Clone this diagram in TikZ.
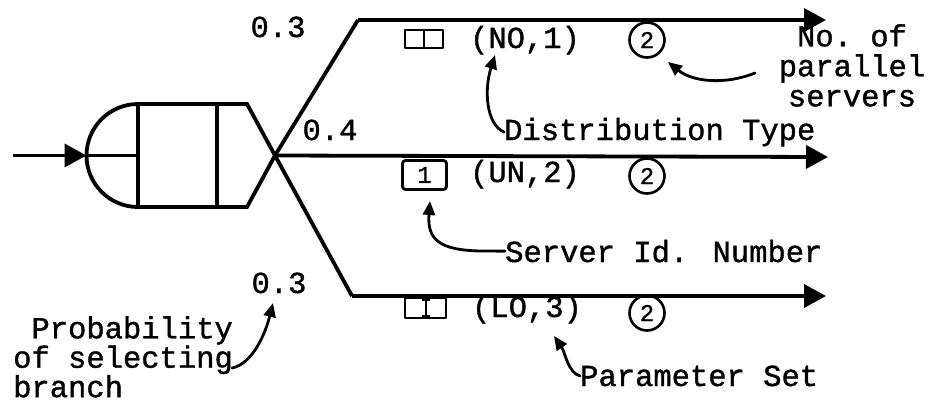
\documentclass[tikz,border=0pt]{standalone}
\usepackage{fontspec}
\newfontfamily\tw{Liberation Mono}[UprightFeatures={FakeBold=1.2}]
\usetikzlibrary{arrows.meta}
\begin{document}
\begin{tikzpicture}[x=1pt,y=-1pt,
  main/.style={line width=3.8pt, line join=miter},
  flow/.style={line width=3.8pt, -{Triangle[length=22pt,width=23pt]}},
  note/.style={line width=2.8pt, line cap=round, -{Triangle[length=14pt,width=12pt]}},
  lbl/.style={font={\fontsize{30.5}{30}\tw}, inner sep=0pt},
  blk/.style={font={\fontsize{30.5}{27}\tw}, inner sep=0pt},
  tag/.style={circle, draw, line width=2.6pt, minimum size=35pt, inner sep=0pt, font={\fontsize{24}{24}\tw}},
  boxln/.style={line width=2.8pt, line join=round}
]
\useasboundingbox (0,0) rectangle (931,402);
% key points
\coordinate (in) at (13,155.5);
\coordinate (dl) at (86.5,155.5);
\coordinate (tl) at (138,104);
\coordinate (bl) at (138,207);
\coordinate (tm) at (217,104);
\coordinate (bm) at (217,207);
\coordinate (tr) at (247,104);
\coordinate (br) at (247,207);
\coordinate (X) at (275,155.5);
\coordinate (ua) at (358,20);
\coordinate (ue) at (826,20);
\coordinate (me) at (828,157);
\coordinate (la) at (352,296);
\coordinate (le) at (826,296);
% queue symbol
\draw[flow] (in) -- (dl);
\draw[main] (tl) .. controls (109.6,104) and (86.5,127.1) .. (dl) .. controls (86.5,183.9) and (109.6,207) .. (bl);
\draw[main] (dl) -- (tl |- dl);
\draw[main] (tl) -- (tr) -- (X) -- (la);
\draw[main] (bl) -- (br) -- (X) -- (ua);
\draw[main] (tl) -- (bl);
\draw[main] (tm) -- (bm);
% branches
\draw[flow] (ua) -- (ue);
\draw[flow] (X) -- (me);
\draw[flow] (la) -- (le);
% probabilities
\node[lbl, anchor=base] (p1) at (278,37) {0.3};
\node[lbl, anchor=base] (p2) at (330,140) {0.4};
\node[lbl, anchor=base] (p3) at (279,293) {0.3};
% server id boxes
\draw[boxln] (405,30) rectangle (443,48);
\draw[boxln] (424,30) -- (424,48);
\node[draw, boxln, rounded corners=3pt, minimum width=44pt, minimum height=29pt, inner sep=0pt, font={\fontsize{24}{24}\tw}] (b2) at (424.5,175) {1};
\draw[boxln] (405,298) rectangle (446,318);
\draw[boxln] (426,298) -- (426,318);
\draw[line width=2pt] (422,300) -- (430,300) (422,316) -- (430,316);
% distributions
\node[lbl, anchor=base] (d1) at (525,48) {(NO,1)};
\node[lbl, anchor=base] (d2) at (525,182) {(UN,2)};
\node[lbl, anchor=base] (d3) at (527,317) {(LO,3)};
% servers
\node[tag] (c1) at (647,40) {2};
\node[tag] (c2) at (647,176) {2};
\node[tag] (c3) at (647,313) {2};
% annotations
\node[font={\fontsize{30.5}{30}\tw}, inner sep=0pt, align=center, anchor=north] (nos) at (852,24) {No.~of\\parallel\\servers};
\node[lbl, anchor=base west] (dist) at (504,140) {Distribution Type};
\node[lbl, anchor=base west] (sid) at (505,262) {Server Id. Number};
\node[lbl, anchor=base west] (pset) at (580,386) {Parameter Set};
\node[blk, align=left, anchor=north west] (prob) at (13,316) {\hphantom{P}Probability\\of selecting\\branch};
% annotation arrows
\coordinate (nosA) at (755,73);
\coordinate (tipC) at (668,62);
\coordinate (tipN) at (495,55);
\coordinate (sidA) at (480,251);
\coordinate (tipI) at (430,201);
\coordinate (tipL) at (554,336);
\coordinate (probA) at (232,368);
\coordinate (tipP) at (273,303);
\draw[note] (nosA) .. controls (725,85) and (693,82) .. (tipC);
\draw[note] (dist.west) .. controls (486,124) and (484,90) .. (tipN);
\draw[note] (sid.west) -- (sidA) .. controls (440,250) and (427,240) .. (tipI);
\draw[note] (pset.west) .. controls (568,373) and (565,352) .. (tipL);
\draw[note] (probA) .. controls (252,364) and (265,335) .. (tipP);
\end{tikzpicture}
\end{document}
